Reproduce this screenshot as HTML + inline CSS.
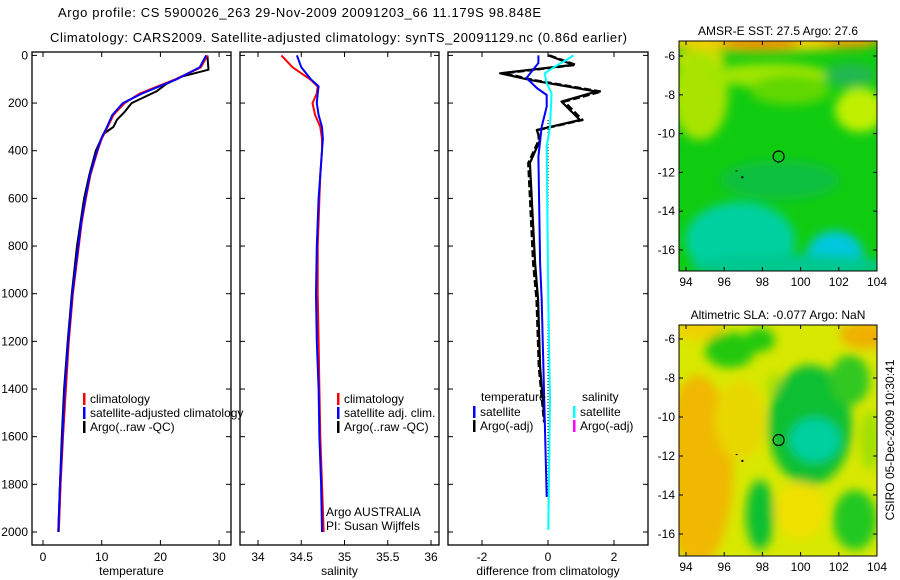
<!DOCTYPE html>
<html><head><meta charset="utf-8"><style>
body{margin:0;background:#fff;}
svg{display:block;font-family:"Liberation Sans",sans-serif;}
</style></head><body>
<svg id="s" width="900" height="580" viewBox="0 0 900 580" xmlns="http://www.w3.org/2000/svg">
<defs>
<filter id="bl" x="-20%" y="-20%" width="140%" height="140%"><feGaussianBlur stdDeviation="5"/></filter>
<clipPath id="c1"><rect x="679" y="41" width="198" height="230"/></clipPath>
<clipPath id="c2"><rect x="679" y="325" width="198" height="231"/></clipPath>
</defs>
<text x="58" y="17" font-size="13" textLength="483">Argo profile: CS 5900026_263 29-Nov-2009 20091203_66 11.179S 98.848E</text>
<text x="50" y="42" font-size="13" textLength="577">Climatology: CARS2009. Satellite-adjusted climatology: synTS_20091129.nc (0.86d earlier)</text>
<g id="g"></g>
</svg>
<script>
// ---- data ----
const depthClim=[0,50,100,130,160,200,250,300,350,400,500,600,700,800,1000,1200,1400,1600,1800,2000];
const tempClim=[28.0,26.9,22.6,19.5,16.5,13.9,12.0,11.0,10.0,9.3,8.1,7.3,6.6,6.1,5.1,4.4,3.9,3.4,3.0,2.7];
const tempSat=[27.8,26.7,22.8,19.8,16.9,13.6,11.8,10.9,9.9,9.2,8.0,7.2,6.5,6.0,5.0,4.3,3.7,3.3,2.9,2.6];
const depthArgo=[0,30,60,90,120,150,200,240,270,300,330,400,500,600,800,1000,1200,1400,1600,1800,2000];
const tempArgo=[28.0,28.1,28.2,23.5,21.0,19.4,15.1,13.8,12.6,12.0,10.3,9.0,7.9,7.0,5.8,4.9,4.2,3.6,3.2,2.9,2.6];
const salClim=[34.27,34.4,34.6,34.69,34.68,34.63,34.66,34.72,34.74,34.74,34.72,34.71,34.70,34.69,34.69,34.70,34.71,34.72,34.74,34.76];
const salSat=[34.45,34.5,34.61,34.7,34.69,34.68,34.7,34.74,34.75,34.74,34.72,34.70,34.69,34.68,34.67,34.68,34.70,34.71,34.73,34.74];
const depthDiff=[0,40,75,103,152,194,271,313,355,452,872,1027,1308,1540];
const diffArgo=[0.01,0.77,-1.45,-0.55,1.47,0.41,0.97,-0.34,-0.24,-0.55,-0.39,-0.30,-0.24,-0.1];
const diffArgoRaw=[0.05,0.85,-1.3,-0.45,1.62,0.5,1.05,-0.3,-0.28,-0.6,-0.45,-0.35,-0.28,-0.12];
const depthSatT=[0,32,95,137,166,215,299,425,872,1027,1853];
const diffSatT=[-0.29,-0.29,-0.65,-0.34,-0.04,-0.04,-0.19,-0.29,-0.24,-0.19,-0.04];
const depthSatS=[0,19,47,75,117,158,299,383,1027,1446,1991];
const diffSatS=[0.77,0.56,0.21,-0.1,-0.04,0.11,0.06,-0.04,0.01,0.06,0.01];
const depthTicks=[0,200,400,600,800,1000,1200,1400,1600,1800,2000];
const tempTicks=[0,10,20,30];
const salTicks=[34,34.5,35,35.5,36];
const diffTicks=[-2,0,2];
const lonTicks=[94,96,98,100,102,104];
const latTicks=[-6,-8,-10,-12,-14,-16];

const NS="http://www.w3.org/2000/svg";
const G=document.getElementById('g');
function mk(t,a,p){const e=document.createElementNS(NS,t);for(const k in a)e.setAttribute(k,a[k]);(p||G).appendChild(e);return e;}
const Y=d=>55.4+d*0.2383;
const xT=v=>43+v*5.87, xS=v=>258+(v-34)*86.5, xD=v=>548+v*33;
const PT=52,PB=545;

function panel(name,x0,x1,xf,ticks,label,showDepth){
  const r=mk('rect',{x:x0,y:PT,width:x1-x0,height:PB-PT,fill:'none',stroke:'#000','stroke-width':1.3});
  
  
  depthTicks.forEach(d=>{const y=Y(d);
    mk('line',{x1:x0,x2:x0+5,y1:y,y2:y,stroke:'#000'});mk('line',{x1:x1-5,x2:x1,y1:y,y2:y,stroke:'#000'});
    if(showDepth){const t=mk('text',{x:x0-4,y:y+4,'font-size':12,'text-anchor':'end'});t.textContent=d;
      
      }
  });
  ticks.forEach(v=>{const x=xf(v);
    mk('line',{x1:x,x2:x,y1:PB,y2:PB-5,stroke:'#000'});mk('line',{x1:x,x2:x,y1:PT,y2:PT+5,stroke:'#000'});
    const t=mk('text',{x:x,y:PB+16,'font-size':12,'text-anchor':'middle'});t.textContent=v;
    
    
  });
  const l=mk('text',{x:(x0+x1)/2,y:575,'font-size':12,'text-anchor':'middle'});l.textContent=label;
  
  
}
function line(name,ds,vs,xf,col,w,dash){
  const pts=ds.map((d,i)=>xf(vs[i]).toFixed(1)+','+Y(d).toFixed(1)).join(' ');
  const a={points:pts,fill:'none',stroke:col,'stroke-width':w,'stroke-linejoin':'round'};
  if(dash)a['stroke-dasharray']=dash;
  const p=mk('polyline',a);
  
  
}
function legend(x,y,items){
  items.forEach((it,i)=>{const yy=y+i*14;
    mk('rect',{x:x,y:yy-9,width:2.5,height:12,fill:it[1]});
    const t=mk('text',{x:x+7,y:yy+1,'font-size':12});t.textContent=it[0];
    
    
  });
}
panel('temperature',32,231,xT,tempTicks,'temperature',true);
panel('salinity',240,439,xS,salTicks,'salinity',false);
panel('difference',448,648,xD,diffTicks,'difference from climatology',false);

line('temp-argo',depthArgo,tempArgo,xT,'#000',2);
line('temp-climatology',depthClim,tempClim,xT,'#f00',2);
line('temp-satellite',depthClim,tempSat,xT,'#00f',2);
legend(83,402,[['climatology','#f00'],['satellite-adjusted climatology','#00f'],['Argo(..raw -QC)','#000']]);
line('sal-climatology',depthClim,salClim,xS,'#f00',2);
line('sal-satellite',depthClim,salSat,xS,'#00f',2);
legend(337,402,[['climatology','#f00'],['satellite adj. clim.','#00f'],['Argo(..raw -QC)','#000']]);
[['Argo AUSTRALIA',516],['PI: Susan Wijffels',530]].forEach(a=>{const t=mk('text',{x:326,y:a[1],'font-size':12});t.textContent=a[0];
  
  });
mk('line',{x1:548,x2:548,y1:120,y2:505,stroke:'#000','stroke-dasharray':'1,2'});
line('diff-temp-argo-raw',depthDiff,diffArgoRaw,xD,'#000',2.2,'7,3');
line('diff-temp-argo',depthDiff,diffArgo,xD,'#000',2.2);
line('diff-temp-satellite',depthSatT,diffSatT,xD,'#00f',2);
line('diff-sal-satellite',depthSatS,diffSatS,xD,'#0ff',2);
[['temperature',481,401],['salinity',582,401]].forEach(a=>{const t=mk('text',{x:a[1],y:a[2],'font-size':12});t.textContent=a[0];
  
  });
legend(473,415,[['satellite','#00f'],['Argo(-adj)','#000']]);
legend(573,415,[['satellite','#0ff'],['Argo(-adj)','#f0f']]);

// ---- maps ----
const mX=v=>686+(v-94)*19.1;
function map(name,y0,y1,latY,clip,base,blobs,title){
  const g=mk('g',{'clip-path':'url(#'+clip+')'});
  
  
  mk('rect',{x:679,y:y0,width:198,height:y1-y0,fill:base},g);
  const bg=mk('g',{filter:'url(#bl)'},g);
  blobs.forEach(b=>mk('ellipse',{cx:b[0],cy:b[1],rx:b[2],ry:b[3],fill:b[4]},bg));
  mk('rect',{x:679,y:y0,width:198,height:y1-y0,fill:'none',stroke:'#000'});
  lonTicks.forEach(v=>{const x=mX(v);mk('line',{x1:x,x2:x,y1:y1,y2:y1-4,stroke:'#000'});mk('line',{x1:x,x2:x,y1:y0,y2:y0+4,stroke:'#000'});
    const t=mk('text',{x:x,y:y1+15,'font-size':12,'text-anchor':'middle'});t.textContent=v;
    
    });
  latTicks.forEach(v=>{const y=latY(v);mk('line',{x1:679,x2:683,y1:y,y2:y,stroke:'#000'});mk('line',{x1:873,x2:877,y1:y,y2:y,stroke:'#000'});
    const t=mk('text',{x:675,y:y+4,'font-size':12,'text-anchor':'end'});t.textContent=v;
    
    });
  mk('circle',{cx:mX(98.85),cy:latY(-11.18),r:5.5,fill:'none',stroke:'#000','stroke-width':1.2});
  mk('rect',{x:mX(96.9),y:latY(-12.2),width:2,height:2,fill:'#000'});
  mk('rect',{x:mX(96.6),y:latY(-11.9),width:2,height:1,fill:'#000'});
  const t=mk('text',{x:778,y:y0-6,'font-size':12,'text-anchor':'middle'});t.textContent=title;
  
  
}
map('sst-map',41,271,v=>56+(v+6)*(-19.4),'c1','#10cc10',[
 [760,38,120,14,'#f0d000'],[760,42,40,8,'#e89000'],[850,40,30,8,'#f0a000'],[700,60,25,10,'#f0e000'],
 [700,95,28,45,'#a8e400'],[770,75,60,12,'#a0e400'],[860,110,25,22,'#c0f000'],[790,90,40,15,'#60d800'],
 [850,75,25,12,'#20b850'],[780,180,60,20,'#10c040'],
 [740,240,55,38,'#00d0a0'],[835,255,28,24,'#00c8e0'],[790,266,100,12,'#00c890']],
 'AMSR-E SST: 27.5 Argo: 27.6');
map('sla-map',325,556,v=>339+(v+6)*(-19.5),'c2','#d8e800',[
 [698,470,35,95,'#f0b800'],[740,420,25,40,'#e8d800'],[865,335,25,14,'#f0b000'],[700,330,25,10,'#f0d000'],
 [730,350,25,18,'#20c810'],[760,340,15,12,'#20c810'],[775,385,10,12,'#b0e000'],
 [810,425,42,60,'#10c030'],[815,440,25,22,'#00d0a0'],[850,380,20,25,'#30c820'],
 [760,515,14,35,'#10c030'],[800,510,25,28,'#f0e000'],[855,520,22,30,'#20c820'],[870,440,10,30,'#a0e000']],
 'Altimetric SLA: -0.077 Argo: NaN');
const cs=mk('text',{x:0,y:0,'font-size':12,'text-anchor':'middle',transform:'translate(894,440) rotate(-90)'});
cs.textContent='CSIRO 05-Dec-2009 10:30:41';


</script>
</body></html>
